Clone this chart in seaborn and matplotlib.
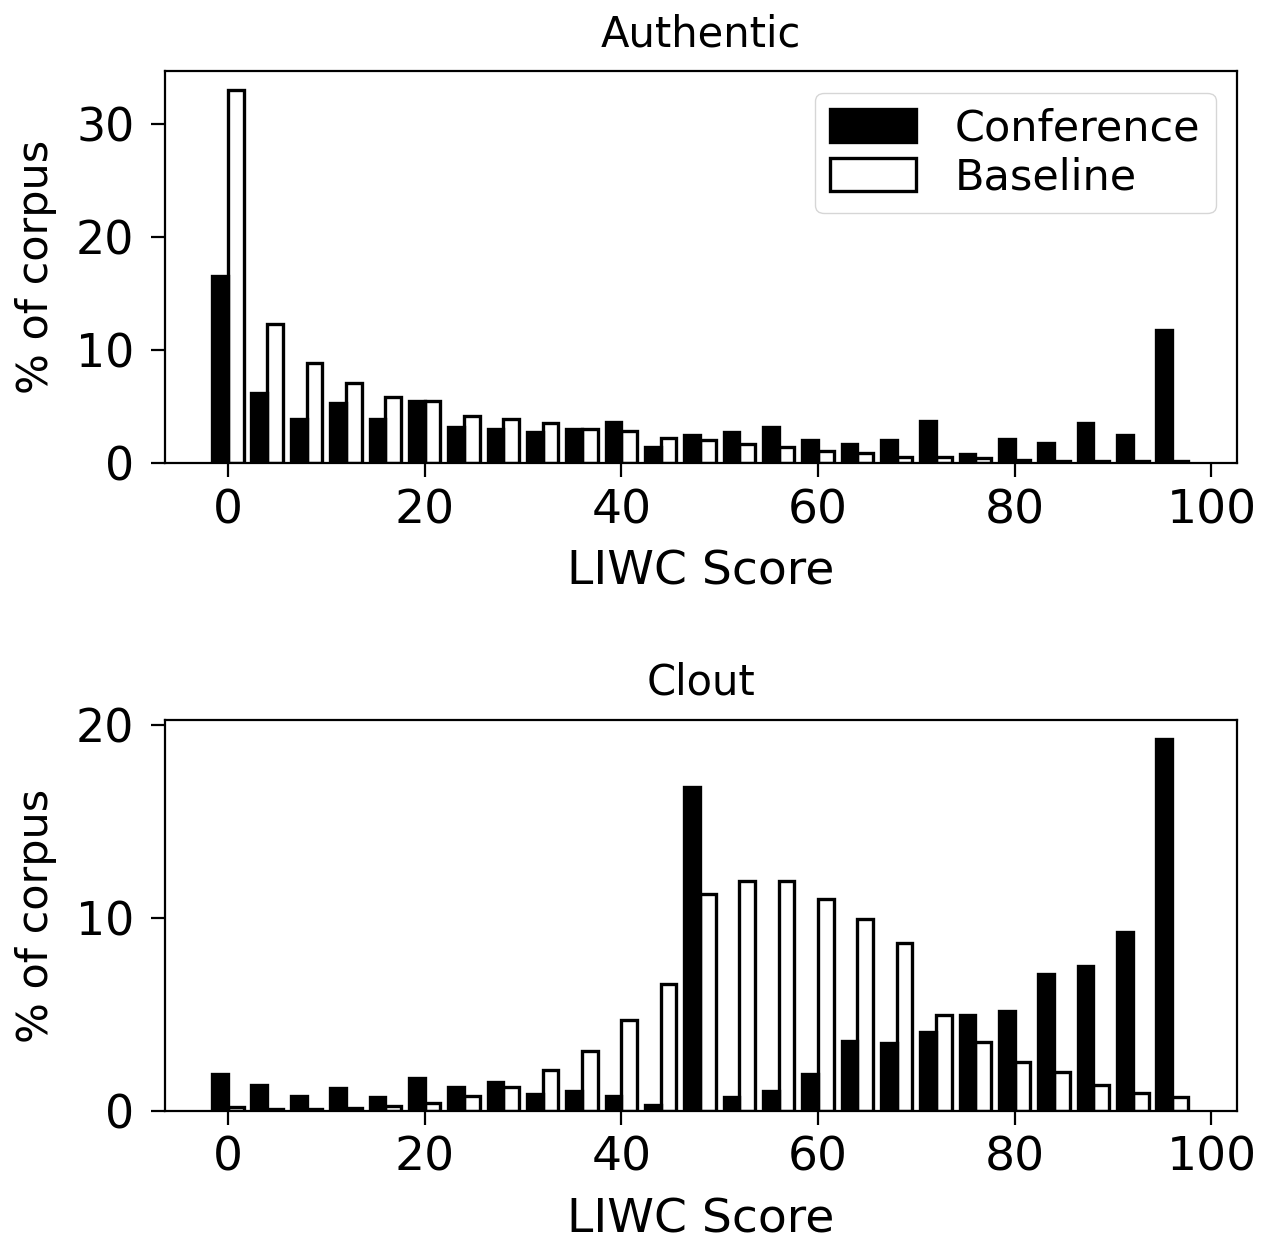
import numpy as np
import pandas as pd
import matplotlib
matplotlib.use("Agg")
import matplotlib.pyplot as plt
import seaborn as sns

# Centros dos bins (LIWC score, largura 4)
centros = list(range(0, 100, 4))
bordas = list(range(-2, 100, 4))

# % do corpus por bin - Authentic
auth_conf = [16.5, 6.2, 3.9, 5.3, 3.9, 5.5, 3.2, 3.0, 2.7, 3.0, 3.6, 1.4, 2.5,
             2.7, 3.2, 2.0, 1.7, 2.0, 3.7, 0.8, 2.1, 1.8, 3.5, 2.5, 11.8]
auth_base = [33.0, 12.3, 8.8, 7.1, 5.8, 5.5, 4.2, 3.9, 3.5, 3.0, 2.8, 2.2, 2.0,
             1.7, 1.4, 1.1, 0.9, 0.5, 0.5, 0.4, 0.3, 0.2, 0.2, 0.2, 0.2]

# % do corpus por bin - Clout
clout_conf = [1.9, 1.35, 0.8, 1.2, 0.7, 1.7, 1.25, 1.5, 0.9, 1.05, 0.8, 0.3, 16.8,
              0.7, 1.05, 1.9, 3.65, 3.5, 4.1, 5.0, 5.2, 7.1, 7.5, 9.3, 19.3]
clout_base = [0.2, 0.1, 0.1, 0.15, 0.25, 0.4, 0.8, 1.25, 2.1, 3.1, 4.7, 6.6, 11.25,
              11.9, 11.9, 11.0, 9.95, 8.7, 5.0, 3.6, 2.55, 2.0, 1.35, 0.95, 0.7]

grupos = ["Conference", "Baseline"]
cores = {"Conference": "black", "Baseline": "white"}


def monta_tabela(conf, base):
    return pd.DataFrame({
        "score": centros * 2,
        "pct": conf + base,
        "corpus": ["Conference"] * len(conf) + ["Baseline"] * len(base),
    })


sns.set_style("ticks")
plt.rcParams["font.family"] = ["DejaVu Sans"]
plt.rcParams["text.color"] = "black"
plt.rcParams["axes.labelcolor"] = "black"
plt.rcParams["axes.edgecolor"] = "black"
plt.rcParams["xtick.color"] = "black"
plt.rcParams["ytick.color"] = "black"
plt.rcParams["axes.linewidth"] = 1.6
plt.rcParams["xtick.major.size"] = 10
plt.rcParams["ytick.major.size"] = 10
plt.rcParams["xtick.major.width"] = 1.6
plt.rcParams["ytick.major.width"] = 1.6
plt.rcParams["xtick.major.pad"] = 8
plt.rcParams["ytick.major.pad"] = 12
plt.rcParams["xtick.labelsize"] = 34
plt.rcParams["ytick.labelsize"] = 33

fig = plt.figure(figsize=(12.61, 12.42), dpi=100)
ax1 = fig.add_axes([0.1308, 0.6272, 0.8502, 0.3156])
ax2 = fig.add_axes([0.1308, 0.1055, 0.8502, 0.3148])

paineis = [
    (ax1, "Authentic", auth_conf, auth_base, True),
    (ax2, "Clout", clout_conf, clout_base, False),
]

for ax, titulo, conf, base, com_legenda in paineis:
    sns.histplot(data=monta_tabela(conf, base), x="score", weights="pct",
                 hue="corpus", hue_order=grupos, palette=cores, bins=bordas,
                 multiple="dodge", shrink=0.8, alpha=1, edgecolor="black",
                 linewidth=2.4, legend=com_legenda, ax=ax)
    ax.set_xlim(-6.4, 102.6)
    ax.set_xticks([0, 20, 40, 60, 80, 100])
    ax.set_title(titulo, fontsize=30, pad=18)
    ax.set_xlabel("LIWC Score", fontsize=34, labelpad=12)
    ax.set_ylabel("% of corpus", fontsize=31, labelpad=14)

ax1.set_yticks([0, 10, 20, 30])
ax2.set_yticks([0, 10, 20])
sns.move_legend(ax1, "upper right", title=None, fontsize=31, frameon=True,
                borderaxespad=0.5, labelspacing=0.15, handleheight=0.8,
                borderpad=0.35, handletextpad=0.9)

fig.savefig("out.png", dpi=100)
